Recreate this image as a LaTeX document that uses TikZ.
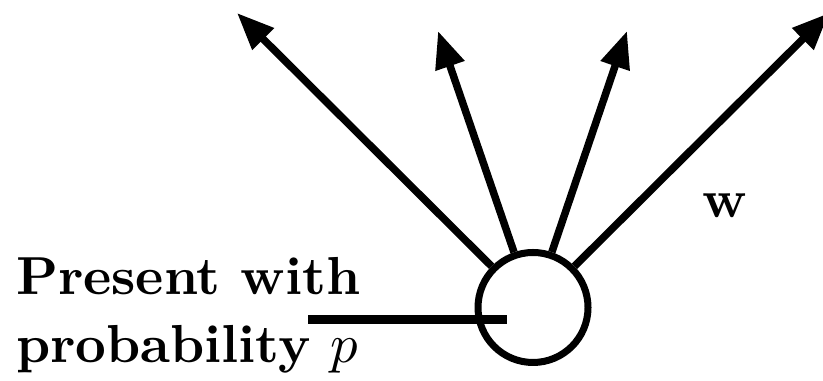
\documentclass[tikz,border=0pt]{standalone}
\usetikzlibrary{arrows.meta}

\begin{document}
\begin{tikzpicture}[x=0.2pt,y=-0.2pt,
    unit/.style={circle,draw,line width=1.4pt,minimum size=22pt,inner sep=0pt},
    outarrow/.style={line width=1.5pt,-{Triangle[length=7.4pt,width=5.8pt]}},
    lbl/.style={font=\fontsize{10.7}{13.6}\selectfont\bfseries,inner sep=0pt,anchor=base west}]
                \useasboundingbox (0,0) rectangle (823,381);

                \node[unit] (unit) at (533,307.5) {};

                \coordinate (out1) at (237,13);
                \coordinate (out2) at (438,31);
                \coordinate (out3) at (627,31);
                \coordinate (out4) at (829,13);
                \foreach \i in {1,...,4}
                    \draw[outarrow] (unit) -- (out\i);

                \coordinate (dropin) at (308,320);
                \coordinate (dropend) at (507,320);
                \draw[line width=1.8pt] (dropin) -- (dropend);

                \node[lbl] (present) at (15,295) {Present with};
                \node[lbl] (prob) at (15,363) {probability $p$};
                \node[lbl,anchor=center] (weights) at (725,206) {w};
            \end{tikzpicture}
\end{document}
